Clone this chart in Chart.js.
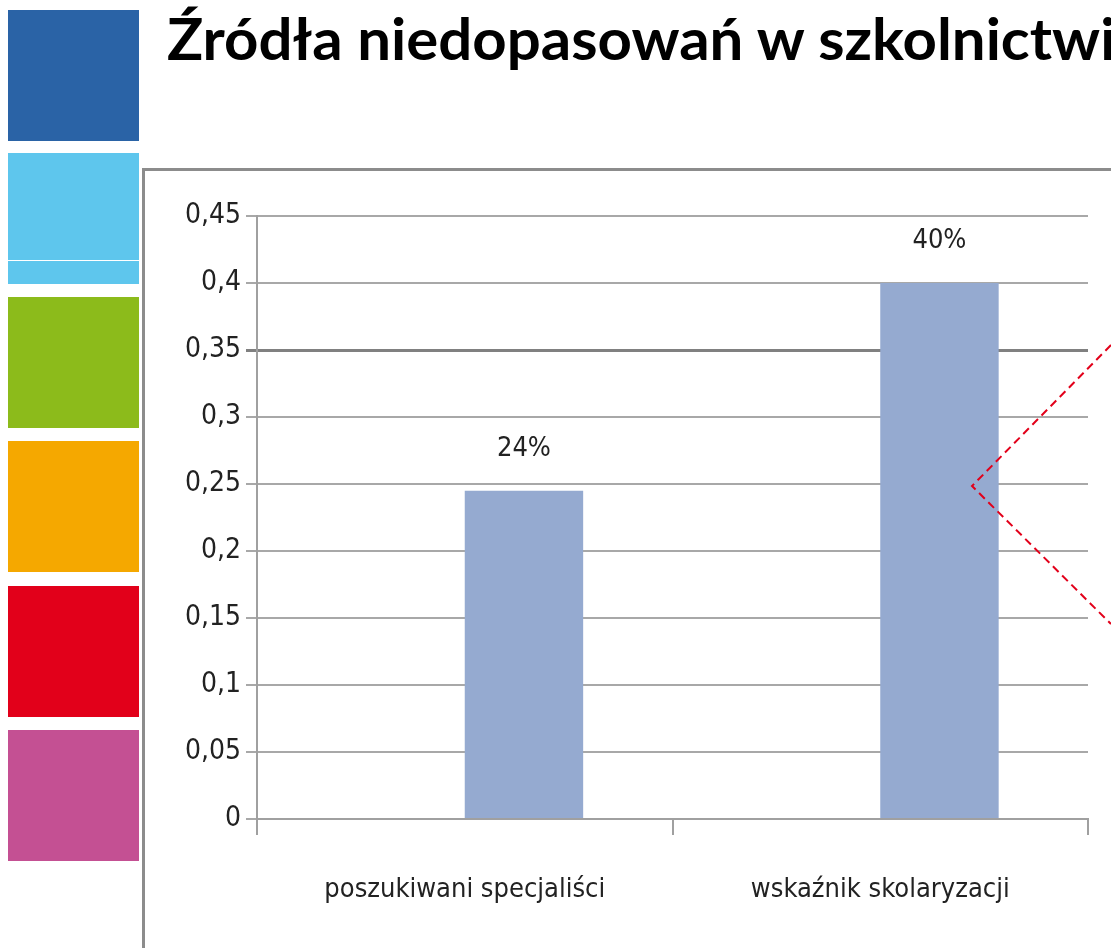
<!DOCTYPE html>
<html lang="pl">
<head>
<meta charset="utf-8">
<title>Źródła niedopasowań w szkolnictwie</title>
<script src="https://cdn.jsdelivr.net/npm/chart.js@4"></script>
<style>
    body { margin: 0; width: 1111px; height: 948px; overflow: hidden; background: #fff; position: relative; }
    .sq { position: absolute; left: 8px; width: 131px; height: 131px; }
    #title {
        position: absolute; left: 167px; top: 10px; white-space: nowrap;
        font-family: Lato, "Open Sans", sans-serif; font-weight: bold; font-size: 47px;
        line-height: 1; color: #000; transform-origin: 0 0;
    }
    #frame {
        position: absolute; left: 142px; top: 168px; width: 1000px; height: 800px;
        border-left: 3px solid #8c8c8c; border-top: 3px solid #8c8c8c;
    }
    #myChart { position: absolute; left: 0; top: 0; }
    #callout { position: absolute; left: 0; top: 0; }
</style>
</head>
<body>
<div class="sq" style="top:10px;background:#2a63a6"></div>
<div class="sq" style="top:153px;background:#5ec6ed"></div>
<div style="position:absolute;left:8px;top:260px;width:131px;height:1px;background:#fff"></div>
<div class="sq" style="top:297px;background:#8cbb1b"></div>
<div class="sq" style="top:441px;background:#f5a800"></div>
<div class="sq" style="top:586px;background:#e2001a"></div>
<div class="sq" style="top:730px;background:#c45093"></div>

<div id="title">Źródła niedopasowań w szkolnictwie</div>
<div id="frame"></div>
<canvas id="myChart" width="1111" height="948"></canvas>
<svg id="callout" width="1111" height="948">
    <polyline points="1111,345 972,486 1111,624" fill="none" stroke="#e2001a" stroke-width="2" stroke-dasharray="8 5"/>
</svg>

<script>
const categories = ['poszukiwani specjaliści', 'wskaźnik skolaryzacji'];
const emptySeries = [null, null];
const shares = [0.245, 0.40];
const shareLabels = ['24%', '40%'];
const yMax = 0.45;
const yStep = 0.05;

// fit the title so it runs off the right edge like on the slide, and stretch it a bit taller
function fitTitle() {
    const title = document.getElementById('title');
    const m = document.createElement('canvas').getContext('2d');
    m.font = 'bold 50px Lato';
    const w = m.measureText('Źródła niedopasowań w szkolnictwi').width;
    const fs = 50 * 951 / w;
    const stretch = 41 / (0.72 * fs);
    title.style.fontSize = fs + 'px';
    title.style.transform = 'scaleY(' + stretch + ')';
    title.style.top = (62 - 0.887 * fs * stretch) + 'px';
}
document.fonts.load('bold 50px Lato').then(fitTitle, fitTitle);

const labelFamily = '"Liberation Sans Narrow", "DejaVu Sans Condensed", sans-serif';

const barLabels = {
    id: 'barLabels',
    afterDatasetsDraw(chart) {
        const ctx = chart.ctx;
        const meta = chart.getDatasetMeta(1);
        ctx.save();
        ctx.fillStyle = '#222';
        ctx.font = '27px ' + labelFamily;
        ctx.textAlign = 'center';
        ctx.textBaseline = 'middle';
        meta.data.forEach((bar, i) => {
            ctx.fillText(shareLabels[i], bar.x, bar.y - 42);
        });
        ctx.restore();
    }
};

const ctx = document.getElementById('myChart').getContext('2d');
const myChart = new Chart(ctx, {
    type: 'bar',
    data: {
        labels: categories,
        datasets: [{
            label: 'Seria1',
            data: emptySeries,
            backgroundColor: '#95aad0'
        }, {
            label: 'Seria2',
            data: shares,
            backgroundColor: '#95aad0'
        }]
    },
    options: {
        responsive: false,
        animation: false,
        categoryPercentage: 0.57,
        barPercentage: 1.0,
        layout: { padding: { left: 0, top: 216, right: 23, bottom: 0 } },
        plugins: {
            legend: { display: false },
            tooltip: { enabled: false }
        },
        scales: {
            x: {
                afterFit: (s) => { s.height = 129; },
                grid: {
                    offset: true,
                    drawOnChartArea: false,
                    drawTicks: true,
                    tickLength: 16,
                    color: '#a0a0a0',
                    lineWidth: 2
                },
                border: { color: '#a0a0a0', width: 2 },
                ticks: {
                    color: '#222',
                    font: { family: labelFamily, size: 27 },
                    padding: 39,
                    maxRotation: 0
                }
            },
            y: {
                min: 0,
                max: yMax,
                afterFit: (s) => { s.width = 257; },
                grid: {
                    color: (c) => Math.abs(c.tick.value - 0.35) < 1e-6 ? '#808080' : '#a8a8a8',
                    lineWidth: (c) => Math.abs(c.tick.value - 0.35) < 1e-6 ? 3 : 2,
                    tickLength: 11
                },
                border: { color: '#a0a0a0', width: 2 },
                ticks: {
                    stepSize: yStep,
                    color: '#222',
                    font: { family: labelFamily, size: 28 },
                    padding: 5,
                    callback: function(val) {
                        return String(Math.round(val * 100) / 100).replace('.', ',');
                    }
                }
            }
        }
    },
    plugins: [barLabels]
});
</script>
</body>
</html>
